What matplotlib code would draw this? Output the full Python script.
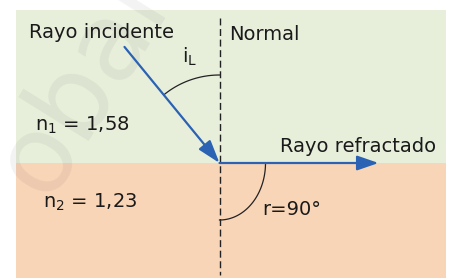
import numpy as np
import matplotlib
matplotlib.use("Agg")
import matplotlib.pyplot as plt
from matplotlib.patches import Rectangle

# ---- data ----
media_labels = ["n$_1$ = 1,58", "n$_2$ = 1,23"]
n_values = [1.58, 1.23]
incidence_angle_deg = 39.3      # angle drawn between incident ray and normal
refraction_angle_deg = 90.0     # r = 90 degrees
ray_labels = ["Rayo incidente", "Rayo refractado"]
normal_label = "Normal"
angle_labels = ["i$_\\mathregular{L}$", "r=90\u00b0"]

# ---- style ----
green = "#e7efdb"
peach = "#f9d5b8"
blue = "#2b62b3"
FS = 14

fig = plt.figure(figsize=(4.49, 2.78), dpi=100)
ax = fig.add_axes([0, 0, 1, 1])
ax.set_xlim(0, 449)
ax.set_ylim(278, 0)
ax.axis("off")

x0, x1 = 16, 446
ytop, yint, ybot = 10, 163, 278
ox = 219.5

ax.add_patch(Rectangle((x0, ytop), x1 - x0, yint - ytop, color=green, lw=0, zorder=0))
ax.add_patch(Rectangle((x0, yint), x1 - x0, ybot - yint, color=peach, lw=0, zorder=0))

# watermark
ax.text(86, 80, "obar", fontsize=78, color="#000000", alpha=0.05,
        rotation=58, ha="center", va="center", zorder=1, clip_on=True)

# normal
ax.plot([ox, ox], [18, 275], color="#222222", lw=1.0, ls=(0, (5, 2.6)), zorder=2)

# incident ray
th = np.deg2rad(incidence_angle_deg)
L = 150
start = (ox - L * np.sin(th), yint - L * np.cos(th))
ax.annotate("", xy=(ox, yint), xytext=start,
            arrowprops=dict(arrowstyle="-|>,head_length=1.4,head_width=0.45",
                            mutation_scale=10, lw=1.6, color=blue,
                            shrinkA=0, shrinkB=0), zorder=4)

# refracted ray
rr = np.deg2rad(refraction_angle_deg)
L2 = 159
end = (ox + L2 * np.sin(rr), yint - L2 * np.cos(rr))
ax.annotate("", xy=end, xytext=(ox, yint),
            arrowprops=dict(arrowstyle="-|>,head_length=1.3,head_width=0.45",
                            mutation_scale=10, lw=1.6, color=blue,
                            shrinkA=0, shrinkB=0), zorder=4)

# arc for incidence angle
phi = np.linspace(0, th, 60)
R = 88
ax.plot(ox - R * np.sin(phi), yint - R * np.cos(phi), color="#222222", lw=0.9, zorder=3)

# arc for refraction angle
psi = np.linspace(0, np.pi / 2, 60)
ax.plot(ox + 46 * np.cos(psi), yint + 57 * np.sin(psi), color="#222222", lw=0.9, zorder=3)

tc = "#1a1a1a"
ax.text(29, 38, ray_labels[0], fontsize=FS, color=tc, ha="left", va="baseline", zorder=5)
ax.text(229, 40, normal_label, fontsize=FS, color=tc, ha="left", va="baseline", zorder=5)
ax.text(280, 152, ray_labels[1], fontsize=FS, color=tc, ha="left", va="baseline", zorder=5)
ax.text(35, 131, media_labels[0], fontsize=FS, color=tc, ha="left", va="baseline", zorder=5)
ax.text(43, 208, media_labels[1], fontsize=FS, color=tc, ha="left", va="baseline", zorder=5)
ax.text(182, 63, angle_labels[0], fontsize=FS, color=tc, ha="left", va="baseline", zorder=5)
ax.text(262, 215, angle_labels[1], fontsize=FS, color=tc, ha="left", va="baseline", zorder=5)

fig.savefig("out.png", dpi=100)
